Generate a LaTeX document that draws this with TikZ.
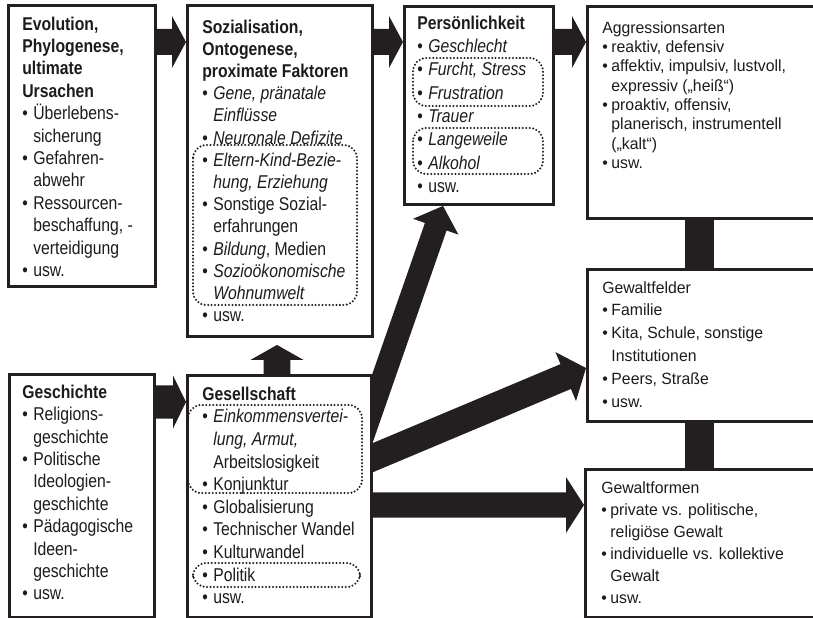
\documentclass[tikz,border=0pt]{standalone}
\usepackage{fontspec}
\setmainfont{Liberation Sans}
\newfontfamily\lfam[FakeStretch=0.85]{Liberation Sans}
\newfontfamily\rfam[FakeStretch=0.97]{Liberation Sans}
\usetikzlibrary{calc}
\definecolor{ink}{HTML}{231F20}
\definecolor{txt}{HTML}{1C1C1C}
\newcommand{\bu}{\makebox[8.25pt][l]{•}}
\newcommand{\ind}{\hspace*{8.25pt}}
\newcommand{\rbu}{\makebox[6.9pt][l]{•}}
\newcommand{\rind}{\hspace*{6.9pt}}
% block arrow: #1 tail, #2 tip, #3 half shaft width, #4 half head width, #5 head length
\newcommand{\barrow}[5]{%
  \coordinate (tmph) at ($(#2)!#5!(#1)$);
  \fill[ink] ($(#1)!#3!90:(#2)$) -- ($(tmph)!#3!90:(#2)$) -- ($(tmph)!#4!90:(#2)$) -- (#2)
    -- ($(tmph)!#4!-90:(#2)$) -- ($(tmph)!#3!-90:(#2)$) -- ($(#1)!#3!-90:(#2)$) -- cycle;}
\pgfdeclarelayer{bg}
\pgfsetlayers{bg,main}
\begin{document}
\begin{tikzpicture}[x=0.75pt,y=-0.75pt,
  box/.style={draw=ink, line width=2.2pt, fill=white, inner sep=0pt, anchor=north west},
  ltext/.style={anchor=north west, align=left, inner sep=0pt, text=txt, font={\lfam\fontsize{13.9pt}{#1}\selectfont}},
  rtext/.style={anchor=north west, align=left, inner sep=0pt, text=txt, font={\rfam\fontsize{12.2pt}{#1}\selectfont}},
  dotbox/.style={draw=ink, line width=1.7pt, dash pattern=on 0pt off 2.6pt, line cap=round, rounded corners=10pt},
  bar/.style={draw=ink, line width=21.75pt}]
\useasboundingbox (0,0) rectangle (813,617);
% boxes
\node[box, minimum width=110.25pt, minimum height=210.75pt] (evo) at (7,4) {};
\node[box, minimum width=138.75pt, minimum height=248.25pt] (soz) at (186,4) {};
\node[box, minimum width=111.75pt, minimum height=148.5pt] (pers) at (403,5) {};
\node[box, minimum width=174pt, minimum height=159pt] (aggr) at (586,5) {};
\node[box, minimum width=174pt, minimum height=114pt] (felder) at (586,268) {};
\node[box, minimum width=175.5pt, minimum height=111pt] (formen) at (584,468) {};
\node[box, minimum width=108.75pt, minimum height=182.25pt] (gesch) at (8,373) {};
\node[box, minimum width=138pt, minimum height=181.5pt] (ges) at (186,374) {};
% connectors behind boxes
\begin{pgfonlayer}{bg}
\coordinate (barx) at (699.5,0);
\draw[bar] (aggr.south -| barx) -- (felder.north -| barx);
\draw[bar] (felder.south -| barx) -- (formen.north -| barx);
\coordinate (a1s) at ($(evo.north east)+(-15,38)$);
\coordinate (a1e) at (a1s -| soz.west);
\barrow{a1s}{a1e}{9.75pt}{19.5pt}{10.5pt}
\coordinate (a2s) at ($(soz.north east)+(-12,38)$);
\coordinate (a2e) at (a2s -| pers.west);
\barrow{a2s}{a2e}{9.75pt}{19.5pt}{10.5pt}
\coordinate (a3s) at ($(pers.north east)+(-12,37)$);
\coordinate (a3e) at (a3s -| aggr.west);
\barrow{a3s}{a3e}{9.75pt}{19.5pt}{10.5pt}
\coordinate (a4s) at ($(gesch.north east)+(-13,29)$);
\coordinate (a4e) at (a4s -| ges.west);
\barrow{a4s}{a4e}{12.4pt}{19.9pt}{9.75pt}
\coordinate (a5s) at ($(ges.north west)+(91,16)$);
\coordinate (a5e) at ($(a5s |- soz.south)+(0,7)$);
\barrow{a5s}{a5e}{10.1pt}{19.9pt}{11.25pt}
\coordinate (a6s) at ($(ges.north east)+(-15,76)$);
\coordinate (a6e) at ($(pers.south west)+(40,0)$);
\barrow{a6s}{a6e}{8.6pt}{18pt}{16.5pt}
\coordinate (a7s) at ($(ges.north east)+(-20,92)$);
\coordinate (a7e) at ($(felder.north west)+(0,100)$);
\barrow{a7s}{a7e}{10.1pt}{19.9pt}{16.5pt}
\coordinate (a8s) at ($(ges.north east)+(-20,131)$);
\coordinate (a8e) at (a8s -| formen.west);
\barrow{a8s}{a8e}{9.4pt}{21pt}{13.5pt}
\end{pgfonlayer}
% dotted groups
\draw[dotbox] (193,145) rectangle (357,305);
\draw[dotbox] (413,58) rectangle (543,106);
\draw[dotbox] (413,128) rectangle (543,174);
\draw[dotbox] (188,405) rectangle (362,493);
\draw[dotbox] (193,563) rectangle (360,587);
% texts
\node[ltext=16.8pt] (evot) at (22,16.5) {\textbf{Evolution,}\\ \textbf{Phylogenese,}\\ \textbf{ultimate}\\ \textbf{Ursachen}\\
 \bu Überlebens-\\ \ind sicherung\\ \bu Gefahren-\\ \ind abwehr\\ \bu Ressourcen-\\ \ind beschaffung, -\\ \ind verteidigung\\ \bu usw.};
\node[ltext=16.65pt] (sozt) at (202,19.5) {\textbf{Sozialisation,}\\ \textbf{Ontogenese,}\\ \textbf{proximate Faktoren}\\
 \bu\textit{Gene, pränatale}\\ \ind\textit{Einflüsse}\\ \bu\textit{Neuronale Defizite}\\ \bu\textit{Eltern-Kind-Bezie-}\\ \ind\textit{hung, Erziehung}\\
 \bu Sonstige Sozial-\\ \ind erfahrungen\\ \bu\textit{Bildung}, Medien\\ \bu\textit{Sozioökonomische}\\ \ind\textit{Wohnumwelt}\\ \bu usw.};
\node[ltext=17.5pt] (perst) at (417,15.5) {\textbf{Persönlichkeit}\\ \bu\textit{Geschlecht}\\ \bu\textit{Furcht, Stress}\\ \bu\textit{Frustration}\\
 \bu\textit{Trauer}\\ \bu\textit{Langeweile}\\ \bu\textit{Alkohol}\\ \bu usw.};
\node[rtext=14.5pt] (aggrt) at (602,21) {Aggressionsarten\\ \rbu reaktiv, defensiv\\ \rbu affektiv, impulsiv, lustvoll,\\ \rind expressiv („heiß“)\\
 \rbu proaktiv, offensiv,\\ \rind planerisch, instrumentell\\ \rind („kalt“)\\ \rbu usw.};
\node[rtext=17.1pt] (feldert) at (602,281) {Gewaltfelder\\ \rbu Familie\\ \rbu Kita, Schule, sonstige\\ \rind Institutionen\\ \rbu Peers, Straße\\ \rbu usw.};
\node[rtext=16.5pt] (forment) at (601,481) {Gewaltformen\\ \rbu private vs. politische,\\ \rind religiöse Gewalt\\ \rbu individuelle vs. kollektive\\ \rind Gewalt\\ \rbu usw.};
\node[ltext=16.8pt] (gescht) at (22,384.5) {\textbf{Geschichte}\\ \bu Religions-\\ \ind geschichte\\ \bu Politische\\ \ind Ideologien-\\ \ind geschichte\\
 \bu Pädagogische\\ \ind Ideen-\\ \ind geschichte\\ \bu usw.};
\node[ltext=16.95pt] (gest) at (202,386.5) {\textbf{Gesellschaft}\\ \bu\textit{Einkommensvertei-}\\ \ind\textit{lung, Armut,}\\ \ind Arbeitslosigkeit\\
 \bu Konjunktur\\ \bu Globalisierung\\ \bu Technischer Wandel\\ \bu Kulturwandel\\ \bu Politik\\ \bu usw.};
\end{tikzpicture}
\end{document}
